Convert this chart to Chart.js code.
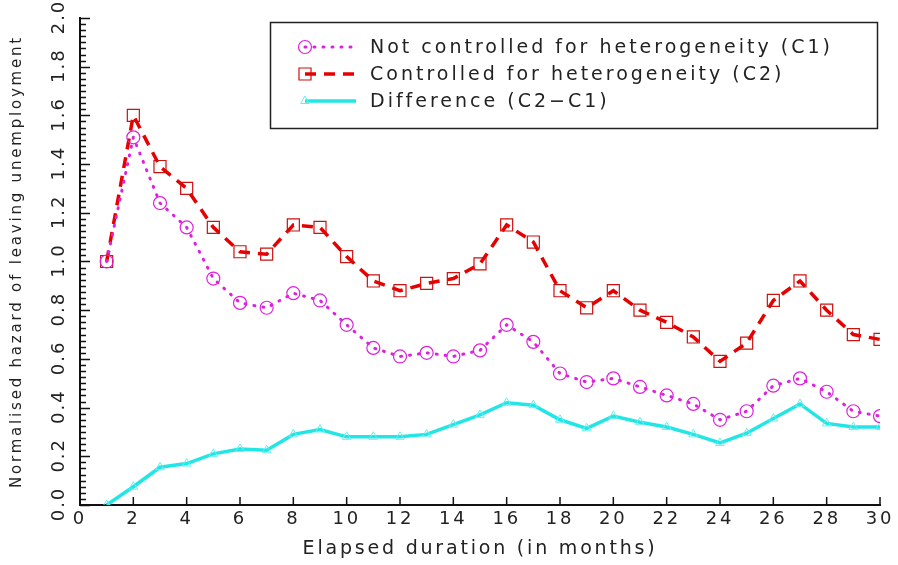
<!DOCTYPE html>
<html>
<head>
<meta charset="utf-8">
<script src="https://cdn.jsdelivr.net/npm/chart.js@4"></script>
<style>
  html, body { margin: 0; padding: 0; background: #fff; }
  #wrap { width: 898px; height: 565px; position: relative; }
</style>
</head>
<body>
<div id="wrap"><canvas id="hazardChart"></canvas></div>
<script>
// values
const months = [1, 2, 3, 4, 5, 6, 7, 8, 9, 10, 11, 12, 13, 14, 15,
  16, 17, 18, 19, 20, 21, 22, 23, 24, 25, 26, 27, 28, 29, 30];
const notControlled = [1.00, 1.51, 1.24, 1.14, 0.93, 0.83, 0.81, 0.87, 0.84, 0.74,
  0.645, 0.61, 0.625, 0.61, 0.635, 0.74, 0.67, 0.54, 0.505, 0.52,
  0.485, 0.45, 0.415, 0.35, 0.385, 0.49, 0.52, 0.465, 0.385, 0.365];
const controlled = [1.00, 1.60, 1.39, 1.30, 1.14, 1.04, 1.03, 1.15, 1.14, 1.02,
  0.92, 0.88, 0.91, 0.93, 0.99, 1.15, 1.08, 0.88, 0.81, 0.88,
  0.80, 0.75, 0.69, 0.59, 0.665, 0.84, 0.92, 0.80, 0.70, 0.68];
const difference = [0.00, 0.075, 0.155, 0.17, 0.21, 0.23, 0.225, 0.29, 0.31, 0.28,
  0.28, 0.28, 0.29, 0.33, 0.37, 0.42, 0.41, 0.35, 0.315, 0.365,
  0.34, 0.32, 0.29, 0.255, 0.295, 0.355, 0.415, 0.335, 0.32, 0.32];
const seriesLabels = ['Not controlled for heterogeneity (C1)',
  'Controlled for heterogeneity (C2)',
  'Difference (C2\u2212C1)'];
const yTickLabels = ['0.0', '0.2', '0.4', '0.6', '0.8', '1.0', '1.2', '1.4', '1.6', '1.8', '2.0'];

const FONT = '"DejaVu Sans", sans-serif';
const pts = vals => months.map((m, i) => ({ x: m, y: vals[i] }));

// inward ticks, rotated y labels, boxed legend
const decorations = {
  id: 'decorations',
  beforeDraw(chart) {
    chart.ctx.letterSpacing = '2.8px';
  },
  afterDraw(chart) {
    const ctx = chart.ctx;
    const xs = chart.scales.x, ys = chart.scales.y;
    const area = chart.chartArea;
    ctx.save();
    ctx.strokeStyle = '#111';
    ctx.lineWidth = 1.5;
    ctx.beginPath();
    xs.ticks.forEach(t => {
      const px = xs.getPixelForValue(t.value);
      ctx.moveTo(px, area.bottom);
      ctx.lineTo(px, area.bottom - 8);
    });
    for (let v = 0; v <= 2.0001; v += 0.025) {
      const py = Math.round(ys.getPixelForValue(v)) + 0.5;
      const major = Math.abs(v / 0.2 - Math.round(v / 0.2)) < 1e-6;
      ctx.moveTo(area.left, py);
      ctx.lineTo(area.left + (major ? 10 : 6), py);
    }
    ctx.stroke();

    // y tick labels, written bottom to top
    ctx.fillStyle = '#222';
    ctx.font = '18px ' + FONT;
    ctx.letterSpacing = '2px';
    ctx.textAlign = 'center';
    ctx.textBaseline = 'middle';
    yTickLabels.forEach(lbl => {
      const py = ys.getPixelForValue(parseFloat(lbl));
      ctx.save();
      ctx.translate(59, py);
      ctx.rotate(-Math.PI / 2);
      ctx.fillText(lbl, 1, 0);
      ctx.restore();
    });

    // legend
    ctx.lineWidth = 1.5;
    ctx.strokeStyle = '#222';
    ctx.strokeRect(270.5, 22.5, 607, 106);
    ctx.textAlign = 'left';
    ctx.font = '19px ' + FONT;
    ctx.letterSpacing = '3px';
    chart.data.datasets.forEach((ds, i) => {
      const ly = 47 + i * 27;
      ctx.save();
      ctx.strokeStyle = ds.borderColor;
      ctx.lineWidth = ds.borderWidth;
      ctx.lineCap = ds.borderCapStyle || 'butt';
      ctx.setLineDash(ds.borderDash || []);
      ctx.beginPath();
      ctx.moveTo(305, ly);
      ctx.lineTo(356, ly);
      ctx.stroke();
      ctx.restore();
      ctx.save();
      ctx.fillStyle = 'rgba(255,255,255,0)';
      ctx.strokeStyle = ds.pointBorderColor;
      ctx.lineWidth = ds.pointBorderWidth;
      Chart.helpers.drawPoint(ctx, {
        pointStyle: ds.pointStyle, radius: ds.pointRadius,
        borderWidth: ds.pointBorderWidth, rotation: 0
      }, 305, ly);
      ctx.restore();
      ctx.fillStyle = '#222';
      ctx.fillText(ds.label, 370, ly + 1);
    });
    ctx.restore();
  }
};

const hazard_chart = document.getElementById('hazardChart');
new Chart(hazard_chart, {
  type: 'line',
  data: {
    datasets: [{
      label: seriesLabels[0],
      data: pts(notControlled),
      borderColor: '#dd22dd',
      borderWidth: 3,
      borderDash: [1, 8],
      borderCapStyle: 'round',
      pointStyle: 'circle',
      pointRadius: 6.5,
      pointBorderColor: '#dd22dd',
      pointBackgroundColor: 'rgba(0,0,0,0)',
      pointBorderWidth: 1.2,
      tension: 0
    }, {
      label: seriesLabels[1],
      data: pts(controlled),
      borderColor: '#e80000',
      borderWidth: 3.5,
      borderDash: [11, 8],
      pointStyle: 'rect',
      pointRadius: 8.5,
      pointBorderColor: '#cc1111',
      pointBackgroundColor: 'rgba(0,0,0,0)',
      pointBorderWidth: 1.2,
      tension: 0
    }, {
      label: seriesLabels[2],
      data: pts(difference),
      borderColor: '#22e6e6',
      borderWidth: 3.5,
      pointStyle: 'triangle',
      pointRadius: 5,
      pointBorderColor: '#66eeee',
      pointBackgroundColor: 'rgba(0,0,0,0)',
      pointBorderWidth: 1,
      tension: 0
    }]
  },
  options: {
    responsive: true,
    maintainAspectRatio: false,
    animation: false,
    layout: { padding: { top: 18, right: 18, left: 0, bottom: 0 } },
    plugins: {
      legend: { display: false },
      tooltip: { enabled: false }
    },
    scales: {
      x: {
        type: 'linear',
        min: 0,
        max: 30,
        ticks: {
          stepSize: 2,
          color: '#222',
          font: { family: FONT, size: 18 },
          padding: 4,
          maxRotation: 0
        },
        grid: { display: false, drawTicks: false },
        border: { display: true, color: '#111', width: 2 },
        title: {
          display: true,
          text: 'Elapsed duration (in months)',
          color: '#222',
          font: { family: FONT, size: 19 },
          padding: { top: 0, bottom: 5 }
        },
        afterFit(scale) { scale.height = 60; }
      },
      y: {
        min: 0,
        max: 2.0,
        ticks: { display: false, stepSize: 0.2 },
        grid: { display: false, drawTicks: false },
        border: { display: true, color: '#111', width: 2 },
        title: {
          display: true,
          text: 'Normalised hazard of leaving unemployment',
          color: '#222',
          font: { family: FONT, size: 15 },
          padding: { top: 8, bottom: 0 }
        },
        afterFit(scale) { scale.width = 80; }
      }
    }
  },
  plugins: [decorations]
});
</script>
</body>
</html>
